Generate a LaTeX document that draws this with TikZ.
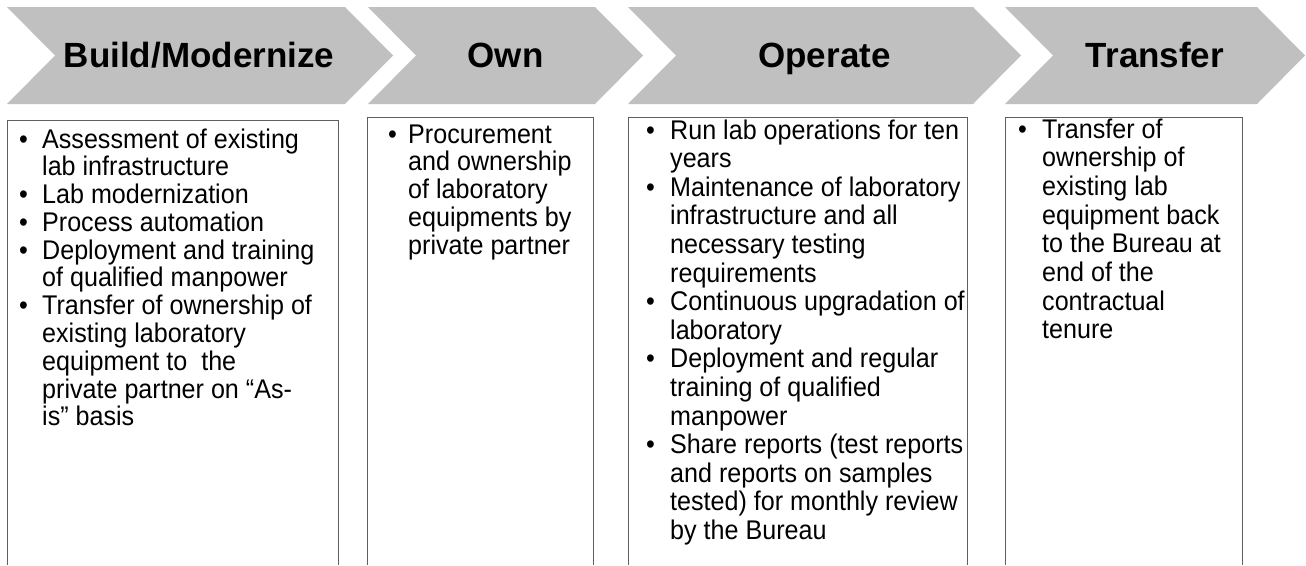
\documentclass[tikz,border=0pt]{standalone}
\usepackage{fontspec}
\setmainfont{Liberation Sans}
\newfontfamily\bodyfont[FakeStretch=0.93]{Liberation Sans}
\usepackage{array}
\definecolor{chevgray}{RGB}{192,192,192}
\definecolor{boxgray}{RGB}{95,95,95}
\newcommand\mychevron[2]{\fill[chevgray] (#1,7) -- (#2,7) -- (#2+48,55.5) -- (#2,104) -- (#1,104) -- (#1+48,55.5) -- cycle;}
\newcommand\myopenbox[3]{\draw[boxline] (#1,565) -- (#1,#3) -- (#2,#3) -- (#2,565);}
\begin{document}
\begin{tikzpicture}[x=1pt,y=-1pt,
  head/.style={font=\fontsize{35}{40}\selectfont\bfseries,anchor=base,inner sep=0pt},
  boxline/.style={draw=boxgray,line width=1pt},
  body/.style={anchor=base west,inner sep=0pt,align=left}]
\useasboundingbox (0,0) rectangle (1306,565);
% chevrons
\mychevron{7}{345}
\mychevron{368}{595}
\mychevron{628}{973}
\mychevron{1005}{1257}
\node[head] (h1) at (199,67.5) {Build/Modernize};
\node[head] (h2) at (505.5,67.5) {Own};
\node[head] (h3) at (824.5,67.5) {Operate};
\node[head] (h4) at (1155,67.5) {Transfer};
% boxes
\myopenbox{7}{338}{120}
\myopenbox{367}{593}{117}
\myopenbox{628}{967}{117}
\myopenbox{1005}{1242}{117}
% texts
\node[body] (t1) at (19,148) {\bodyfont\fontsize{27}{27.4}\selectfont
\begin{tabular}[t]{@{}p{23pt}@{}l@{}}
\textbullet & Assessment of existing\\
 & lab infrastructure\\
\textbullet & Lab modernization\\
\textbullet & Process automation\\
\textbullet & Deployment and training\\
 & of qualified manpower\\
\textbullet & Transfer of ownership of\\
 & existing laboratory\\
 & equipment to\ \ the\\
 & private partner on “As-\\
 & is” basis
\end{tabular}};
\node[body] (t2) at (388,143) {\bodyfont\fontsize{27}{27.3}\selectfont
\begin{tabular}[t]{@{}p{20pt}@{}l@{}}
\textbullet & Procurement\\
 & and ownership\\
 & of laboratory\\
 & equipments by\\
 & private partner
\end{tabular}};
\node[body] (t3) at (646,139) {\bodyfont\fontsize{27}{28.6}\selectfont
\begin{tabular}[t]{@{}p{24pt}@{}l@{}}
\textbullet & Run lab operations for ten\\
 & years\\
\textbullet & Maintenance of laboratory\\
 & infrastructure and all\\
 & necessary testing\\
 & requirements\\
\textbullet & Continuous upgradation of\\
 & laboratory\\
\textbullet & Deployment and regular\\
 & training of qualified\\
 & manpower\\
\textbullet & Share reports (test reports\\
 & and reports on samples\\
 & tested) for monthly review\\
 & by the Bureau
\end{tabular}};
\node[body] (t4) at (1018,138) {\bodyfont\fontsize{27}{28.7}\selectfont
\begin{tabular}[t]{@{}p{24pt}@{}l@{}}
\textbullet & Transfer of\\
 & ownership of\\
 & existing lab\\
 & equipment back\\
 & to the Bureau at\\
 & end of the\\
 & contractual\\
 & tenure
\end{tabular}};
\end{tikzpicture}
\end{document}
